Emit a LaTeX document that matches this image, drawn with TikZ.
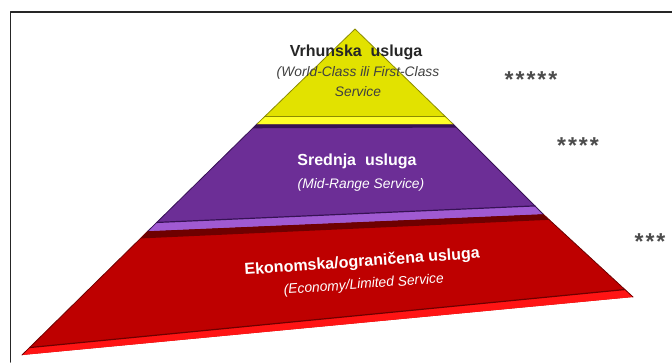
\documentclass[tikz,border=0pt]{standalone}
\usepackage{fontspec}
\setmainfont{Liberation Sans}
\usetikzlibrary{calc}
\definecolor{yfill}{RGB}{226,226,0}
\definecolor{yrim}{RGB}{255,255,40}
\definecolor{ydark}{RGB}{140,140,0}
\definecolor{pfill}{RGB}{108,46,150}
\definecolor{prim}{RGB}{160,90,210}
\definecolor{pdark}{RGB}{55,18,85}
\definecolor{rfill}{RGB}{190,0,0}
\definecolor{rrim}{RGB}{255,20,20}
\definecolor{rdark}{RGB}{110,0,0}
\begin{document}
\begin{tikzpicture}[x=1pt,y=-1pt,line join=round,line cap=round]
	\tikzset{title style/.style={font=\bfseries\fontsize{16}{19}\selectfont,inner sep=1pt},
		sub style/.style={font=\itshape\fontsize{13.8}{16}\selectfont,inner sep=1pt},
		star style/.style={text=black!70,font=\bfseries\fontsize{23}{24}\selectfont,inner sep=1pt},
		edge style/.style={line width=0.8pt}}
	\def\gap{\kern2pt}
	\useasboundingbox (0,0) rectangle (672,362);
	%%Khung
	\draw[line width=1.5pt,black!85] (10.5,362)--(10.5,12)--(672,12);
	%%Các đỉnh của kim tự tháp
	\coordinate (A) at (355,29);
	\coordinate (YL) at (257,124);
	\coordinate (YR) at (453,124);
	\coordinate (PL) at (148,231);
	\coordinate (PR) at (543,214);
	\coordinate (RL) at (22,355);
	\coordinate (RR) at (633,297);
	%%Tầng dưới
	\fill[rfill] (PL)--(PR)--(RR)--(RL)--cycle;
	\fill[rdark] (PL)--(PR)--($(PR)!0.07!(RR)$)--($(PL)!0.06!(RL)$)--cycle;
	\fill[rrim] (RL)--(RR)--($(RR)!0.09!(PR)$)--($(RL)!0.06!(PL)$)--cycle;
	\draw[rdark,line width=1.2pt] ($(RL)!0.06!(PL)$)--($(RR)!0.09!(PR)$);
	\draw[edge style,rdark] (PL)--(RL) (PR)--(RR);
	%%Tầng giữa
	\fill[pfill] (YL)--(YR)--(PR)--(PL)--cycle;
	\fill[pdark] (YL)--(YR)--($(YR)!0.04!(PR)$)--($(YL)!0.04!(PL)$)--cycle;
	\fill[prim] (PL)--(PR)--($(PR)!0.09!(YR)$)--($(PL)!0.08!(YL)$)--cycle;
	\draw[pdark,line width=1.2pt] ($(PL)!0.08!(YL)$)--($(PR)!0.09!(YR)$);
	\draw[edge style,pdark] (YL)--(PL) (YR)--(PR);
	%%Đỉnh
	\fill[yfill] (A)--(YR)--(YL)--cycle;
	\fill[yrim] (YL)--(YR)--($(YR)!0.08!(A)$)--($(YL)!0.08!(A)$)--cycle;
	\draw[ydark,line width=1.2pt] ($(YL)!0.08!(A)$)--($(YR)!0.08!(A)$);
	\draw[edge style,ydark] (YL)--(A)--(YR);
	%%Chữ
	\node[title style,text=black!85] (top) at (356,52) {Vrhunska\ \ usluga};
	\node[sub style,text=black!75] (topsub) at (358,73) {(World-Class ili First-Class};
	\node[sub style,text=black!75] (topsubb) at (358,92) {Service};
	\node[title style,text=white] (mid) at (357,161) {Srednja\ \ usluga};
	\node[sub style,text=white] (midsub) at (361,185) {(Mid-Range Service)};
	\node[align=center,text=white,rotate=4,inner sep=1pt,
		font=\fontsize{16}{22}\selectfont] (low) at (363,273)
		{\textbf{Ekonomska/ograničena usluga}\\
		{\itshape\fontsize{13.8}{22}\selectfont (Economy/Limited Service}};
	\node[star style] (five) at (531,80) {*\gap*\gap*\gap*\gap*};
	\node[star style] (four) at (578,146) {*\gap*\gap*\gap*};
	\node[star style] (three) at (650,242) {*\gap*\gap*};
\end{tikzpicture}
\end{document}
